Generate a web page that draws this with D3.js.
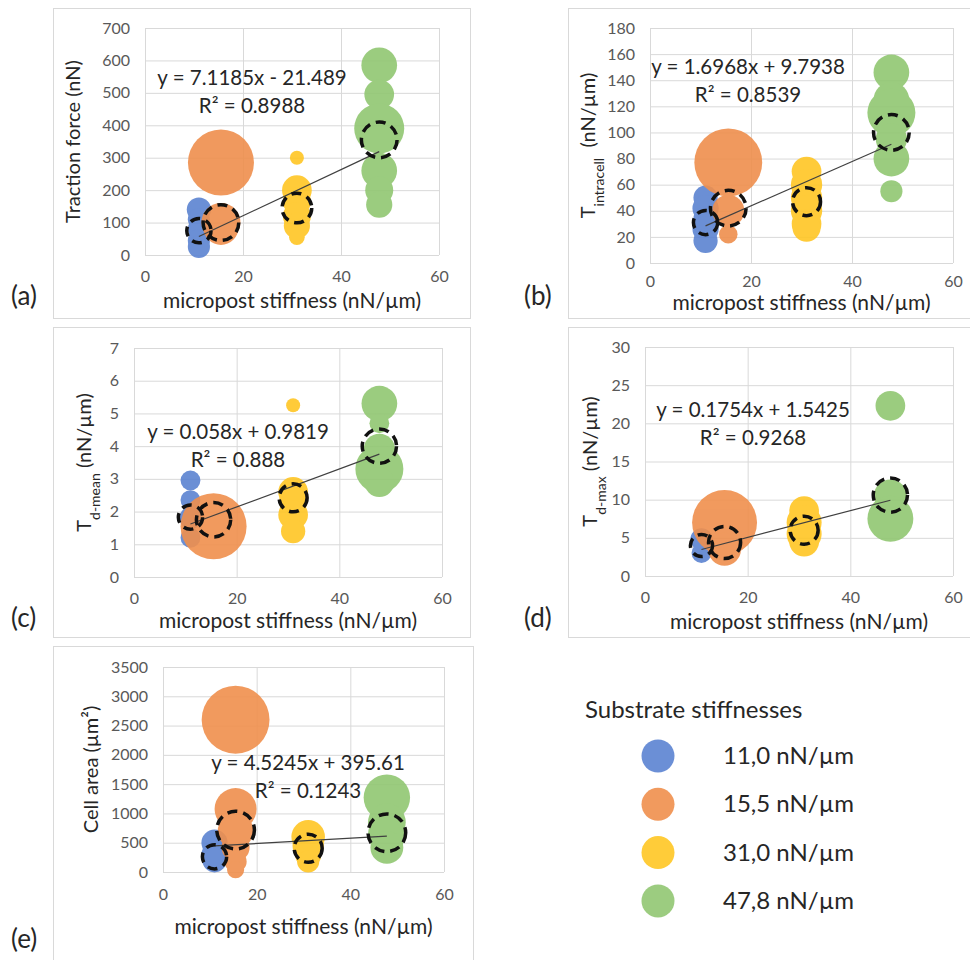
<!DOCTYPE html>
<html>
<head>
<meta charset="utf-8">
<script src="https://cdn.jsdelivr.net/npm/d3@7"></script>
<style>
  body { margin: 0; background: #fff; }
  svg { display: block; font-family: Lato, "Open Sans", sans-serif; }
</style>
</head>
<body>
<svg id="chart" width="970" height="960"></svg>
<script>
// substrate stiffness groups (x positions) and their legend labels
const stiffness = [11.0, 15.5, 31.0, 47.8];
const groupLabels = ["11,0 nN/µm", "15,5 nN/µm", "31,0 nN/µm", "47,8 nN/µm"];
const groupColors = ["#5b83d1", "#ef8f4d", "#ffc624", "#91c772"];
const xTicks = [0, 20, 40, 60];

// each bubble: [value, bubble size]; one array per stiffness group
const tractionForce = [
  [[140, 12], [110, 10], [80, 10], [45, 10], [25, 10]],
  [[285, 89], [100, 31], [85, 25]],
  [[300, 4], [200, 18], [165, 16], [120, 16], [90, 14], [55, 5]],
  [[585, 26], [495, 18], [390, 51], [260, 26], [200, 16], [155, 14]]
];
const tractionMeans = [[75, 12], [100, 26], [145, 18], [355, 26]];

const tIntracell = [
  [[50, 12], [42, 14], [34, 12], [26, 14], [17, 12]],
  [[77, 94], [40, 21], [22, 7]],
  [[70, 18], [60, 20], [50, 20], [40, 20], [30, 18], [27, 16]],
  [[146, 26], [125, 26], [115, 47], [95, 20], [80, 26], [55, 10]]
];
const intracellMeans = [[31, 12], [42, 26], [47, 16], [100, 26]];

const tdMean = [
  [[2.95, 8], [2.35, 8], [1.8, 10], [1.2, 8]],
  [[1.55, 89]],
  [[5.25, 4], [2.6, 18], [2.3, 16], [1.9, 18], [1.4, 12]],
  [[5.3, 26], [4.7, 8], [3.9, 20], [3.3, 47], [2.9, 18]]
];
const tdMeanMeans = [[1.83, 12], [1.75, 24], [2.42, 16], [4.0, 24]];

const tdMax = [
  [[4.8, 10], [3.0, 8]],
  [[7.0, 86], [3.5, 22]],
  [[8.5, 18], [7, 25], [5.5, 25], [4.5, 18]],
  [[22.3, 18], [10.5, 22], [7.5, 43]]
];
const tdMaxMeans = [[4.0, 10], [4.4, 21], [6.0, 16], [10.6, 24]];

const cellArea = [
  [[500, 14], [300, 14], [200, 12]],
  [[2600, 94], [1075, 36], [700, 26], [420, 16], [180, 10], [40, 6]],
  [[600, 23], [450, 20], [300, 14], [180, 10]],
  [[1270, 44], [850, 29], [650, 29], [420, 22]]
];
const cellAreaMeans = [[260, 12], [715, 29], [405, 16], [670, 29]];

// linear fits: [slope, intercept, R²]
const fits = [
  [7.1185, -21.489, 0.8988],
  [1.6968, 9.7938, 0.8539],
  [0.058, 0.9819, 0.888],
  [0.1754, 1.5425, 0.9268],
  [4.5245, 395.61, 0.1243]
];

const panels = [
  { label: "(a)", data: tractionForce, means: tractionMeans, fit: fits[0],
    yTicks: d3.range(0, 701, 100),
    yTitle: [{ t: "Traction force (nN)" }],
    frame: [53, 8, 470, 318], plot: [145, 28, 439, 255], tickPad: 16,
    eq: [252, 85], yTitleX: 80, xTitleY: 308, labelPos: [11, 305] },
  { label: "(b)", data: tIntracell, means: intracellMeans, fit: fits[1],
    yTicks: d3.range(0, 181, 20),
    yTitle: [{ t: "T" }, { t: "intracell", sub: true }, { t: "  (nN/µm)" }],
    frame: [568, 8, 978, 318], plot: [650, 28, 953, 263], tickPad: 13,
    eq: [748, 74], yTitleX: 595, xTitleY: 310, labelPos: [524, 305] },
  { label: "(c)", data: tdMean, means: tdMeanMeans, fit: fits[2],
    yTicks: d3.range(0, 8, 1),
    yTitle: [{ t: "T" }, { t: "d-mean", sub: true }, { t: " (nN/µm)" }],
    frame: [53, 327, 470, 637], plot: [134, 348, 442, 577], tickPad: 16,
    eq: [238, 439], yTitleX: 91, xTitleY: 628, labelPos: [11, 627] },
  { label: "(d)", data: tdMax, means: tdMaxMeans, fit: fits[3],
    yTicks: d3.range(0, 31, 5),
    yTitle: [{ t: "T" }, { t: "d-max", sub: true }, { t: " (nN/µm)" }],
    frame: [568, 327, 978, 637], plot: [645, 347, 953, 576], tickPad: 16,
    eq: [753, 417], yTitleX: 597, xTitleY: 629, labelPos: [524, 627] },
  { label: "(e)", data: cellArea, means: cellAreaMeans, fit: fits[4],
    yTicks: d3.range(0, 3501, 500),
    yTitle: [{ t: "Cell area (µm²)" }],
    frame: [53, 646, 473, 968], plot: [163, 667, 444, 872], tickPad: 17,
    eq: [308, 770], yTitleX: 98, xTitleY: 934, labelPos: [11, 948] }
];

const svg = d3.select("#chart");
const radius = d3.scaleSqrt().domain([0, 100]).range([0, 35]);
const textDark = "#262626";

function eqText(f) {
  const sign = f[1] < 0 ? " - " : " + ";
  return "y = " + f[0] + "x" + sign + Math.abs(f[1]);
}

function drawPanel(p) {
  const g = svg.append("g");
  const [fx0, fy0, fx1, fy1] = p.frame;
  const [px0, py0, px1, py1] = p.plot;

  g.append("rect")
      .attr("x", fx0 + 0.5).attr("y", fy0 + 0.5)
      .attr("width", fx1 - fx0).attr("height", fy1 - fy0)
      .attr("fill", "#fff")
      .attr("stroke", "#d9d9d9");

  const x = d3.scaleLinear().domain([0, 60]).range([px0, px1]);
  const y = d3.scaleLinear().domain([0, p.yTicks[p.yTicks.length - 1]]).range([py1, py0]);

  // axes with gridlines
  const yAxis = g.append("g")
      .attr("transform", `translate(${px0},0)`)
      .call(d3.axisLeft(y).tickValues(p.yTicks).tickFormat(d3.format("d"))
        .tickSize(-(px1 - px0)).tickPadding(15));
  const xAxis = g.append("g")
      .attr("transform", `translate(0,${py1})`)
      .call(d3.axisBottom(x).tickValues(xTicks).tickFormat(d3.format("d"))
        .tickSize(-(py1 - py0)).tickPadding(p.tickPad));
  [yAxis, xAxis].forEach(a => {
    a.select(".domain").remove();
    a.selectAll("line").attr("stroke", "#d9d9d9");
    a.selectAll("text")
        .attr("fill", "#595959")
        .style("font-size", "16px")
        .style("font-family", "Lato, sans-serif");
  });

  // bubbles, one group per stiffness
  p.data.forEach((series, i) => {
    g.append("g")
        .attr("opacity", 0.9)
      .selectAll("circle")
      .data(series)
      .join("circle")
        .attr("cx", x(stiffness[i]))
        .attr("cy", d => y(d[0]))
        .attr("r", d => radius(d[1]))
        .attr("fill", groupColors[i]);
  });

  // trendline
  const xs = d3.extent(stiffness);
  g.append("line")
      .attr("x1", x(xs[0])).attr("y1", y(p.fit[0] * xs[0] + p.fit[1]))
      .attr("x2", x(xs[1])).attr("y2", y(p.fit[0] * xs[1] + p.fit[1]))
      .attr("stroke", "#404040")
      .attr("stroke-width", 1.2);

  // dashed mean circles
  g.selectAll("circle.mean")
    .data(p.means)
    .join("circle")
      .attr("class", "mean")
      .attr("cx", (d, i) => x(stiffness[i]))
      .attr("cy", d => y(d[0]))
      .attr("r", d => radius(d[1]))
      .attr("fill", "none")
      .attr("stroke", "#111")
      .attr("stroke-width", 3.5)
      .attr("stroke-dasharray", "10,6");

  // equation
  g.append("text")
      .attr("x", p.eq[0]).attr("y", p.eq[1])
      .attr("text-anchor", "middle")
      .attr("fill", textDark)
      .style("font-size", "20.5px")
      .text(eqText(p.fit));
  g.append("text")
      .attr("x", p.eq[0]).attr("y", p.eq[1] + 28)
      .attr("text-anchor", "middle")
      .attr("fill", textDark)
      .style("font-size", "20.5px")
      .text("R² = " + p.fit[2]);

  // axis titles
  g.append("text")
      .attr("x", (px0 + px1) / 2).attr("y", p.xTitleY)
      .attr("text-anchor", "middle")
      .attr("fill", textDark)
      .style("font-size", "21px")
      .text("micropost stiffness (nN/µm)");

  const yt = g.append("text")
      .attr("transform", `translate(${p.yTitleX},${(py0 + py1) / 2}) rotate(-90)`)
      .attr("text-anchor", "middle")
      .attr("fill", textDark)
      .style("font-size", "20px");
  p.yTitle.forEach(part => {
    const ts = yt.append("tspan").text(part.t).style("white-space", "pre");
    if (part.sub) {
      ts.style("font-size", "14px").attr("baseline-shift", "sub");
    }
  });

  g.append("text")
      .attr("x", p.labelPos[0]).attr("y", p.labelPos[1])
      .attr("fill", textDark)
      .style("font-size", "26px")
      .text(p.label);
}

panels.forEach(drawPanel);

// legend
const legend = svg.append("g");
legend.append("text")
    .attr("x", 585).attr("y", 718)
    .attr("fill", textDark)
    .style("font-size", "24px")
    .text("Substrate stiffnesses");
const items = legend.selectAll("g.item")
  .data(groupLabels)
  .join("g")
    .attr("class", "item")
    .attr("transform", (d, i) => `translate(0,${756 + i * 48.3})`);
items.append("circle")
    .attr("cx", 658).attr("r", 16.5)
    .attr("fill", (d, i) => groupColors[i])
    .attr("opacity", 0.9);
items.append("text")
    .attr("x", 723).attr("y", 8)
    .attr("fill", textDark)
    .style("font-size", "24px")
    .text(d => d);
</script>
</body>
</html>
